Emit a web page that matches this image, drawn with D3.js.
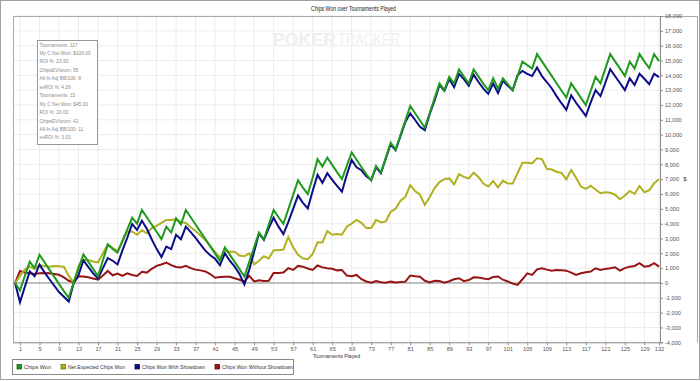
<!DOCTYPE html>
<meta charset="utf-8">
<script src="https://d3js.org/d3.v7.min.js"></script>
<style>
body { margin: 0; background: #fff; }
text { font-family: "Liberation Sans", Arial, sans-serif; }
</style>
<div id="chart"></div>
<script>

// tick labels
var xTicks = [1, 5, 9, 13, 17, 21, 25, 29, 33, 37, 41, 45, 49, 53, 57, 61, 65, 69, 73, 77, 81, 85, 89, 93, 97, 101, 105, 109, 113, 117, 121, 125, 129, 132];
var yTicks = [-4000, -3000, -2000, -1000, 0, 1000, 2000, 3000, 4000, 5000, 6000, 7000, 8000, 9000, 10000, 11000, 12000, 13000, 14000, 15000, 16000, 17000, 18000];

// series, one value per tournament (index 0 = start)
var chipsWon = [0, -500, 470, 1440, 1000, 1900, 1410, 920, 430, -60,
  -550, -1000, 50, 990, 1930, 1440, 950, 460, 1530, 2600,
  2300, 2050, 2830, 3610, 4400, 4000, 4920, 4430, 3940, 3450,
  2960, 3800, 3400, 4360, 3950, 4920, 4430, 3940, 3450, 2960,
  2470, 1980, 1490, 2400, 1910, 1420, 930, 440, 1420, 2410,
  3400, 2950, 3940, 4920, 4430, 3980, 4960, 5940, 6920, 6430,
  6000, 7100, 8350, 7850, 8450, 7960, 7470, 7000, 7900, 8800,
  8310, 7820, 7330, 6900, 7890, 7450, 8450, 9460, 9000, 9980,
  10950, 11930, 11440, 10950, 10460, 11460, 12460, 13460, 13000, 13900,
  13450, 14400, 13910, 13460, 14400, 13910, 13420, 13010, 13800, 13100,
  13800, 13400, 13000, 13950, 14920, 14690, 14450, 15430, 14940, 14450,
  13960, 13470, 12980, 12500, 13460, 12970, 12480, 12000, 12950, 13900,
  13460, 14450, 15430, 14940, 14450, 13960, 14920, 14450, 15430, 14940,
  14480, 15430, 14960];

var netExpected = [0, 480, 900, 1100, 950, 1200, 1150, 1100, 1150, 1120,
  1100, 480, 20, 1150, 1550, 1550, 1450, 1380, 2000, 2600,
  2350, 2150, 2800, 3500, 3460, 3250, 3550, 3350, 3700, 3850,
  4050, 4250, 4250, 4300, 4100, 4050, 3750, 3500, 3200, 2900,
  2500, 2100, 1700, 2150, 2100, 2100, 1850, 1800, 2000, 1250,
  1500, 1800, 1650, 2200, 2200, 2250, 3100, 2400, 1900, 1650,
  1600, 1950, 2750, 2730, 3500, 3250, 3300, 3250, 3800, 4000,
  4250, 4050, 3700, 3700, 4250, 4080, 4150, 4800, 5000, 5550,
  5800, 6600, 6200, 5950, 5260, 5800, 6400, 6800, 7000, 7050,
  6650, 7330, 7150, 7050, 7430, 7150, 6700, 6500, 6870, 6450,
  6900, 6700, 6700, 7400, 8100, 8100, 8080, 8400, 8350, 7700,
  7650, 7500, 7420, 6990, 7620, 7100, 6500, 6350, 6550, 6300,
  6050, 6120, 6080, 5950, 5650, 5900, 6200, 6000, 6540, 6120,
  6250, 6720, 6990];

var withShowdown = [0, -1300, -250, 780, 450, 1230, 730, 270, -170, -610,
  -930, -1250, -10, 540, 1520, 1080, 650, 300, 1000, 1680,
  1500, 1250, 2200, 3050, 3980, 3570, 4200, 3650, 2950, 2300,
  1750, 2450, 2280, 3250, 2950, 3800, 3430, 3040, 2600, 2180,
  1870, 1630, 1200, 2000, 1500, 1100, 600, -100, 900, 2100,
  3350, 2900, 3700, 4400, 3800, 3300, 4100, 5000, 5900, 5400,
  5030, 6200, 7300, 6750, 7400, 6950, 6550, 6150, 7300, 8300,
  7800, 7600, 7200, 6950, 7800, 7400, 8400, 9350, 8950, 9900,
  10850, 11440, 10990, 10530, 10310, 11400, 12300, 13350, 12950, 13750,
  13200, 14100, 13750, 13300, 14050, 13550, 13100, 12750, 13450, 12800,
  13650, 13300, 13000, 14000, 14300, 14100, 13950, 14520, 13950, 13550,
  13130, 12600, 12120, 11670, 12650, 12150, 11700, 11260, 12180, 13000,
  12600, 13500, 14420, 13940, 13480, 13000, 13800, 13350, 14100, 13770,
  13400, 14100, 13880];

var withoutShowdown = [0, 810, 700, 650, 610, 650, 680, 650, 600, 550,
  380, 150, 60, 450, 430, 380, 300, 220, 500, 810,
  520, 640, 480, 650, 540, 470, 760, 700, 950, 1150,
  1250, 1370, 1200, 1080, 1050, 1150, 1000, 900, 850, 780,
  600, 350, 400, 420, 420, 320, 220, 100, 480, 100,
  180, 140, 150, 680, 680, 700, 1000, 880, 1150, 1100,
  980, 880, 1180, 1050, 1000, 960, 850, 880, 500, 450,
  540, 250, 100, 20, 130, 50, 20, 90, 40, 60,
  90, 500, 450, 420, 150, 30, 150, 130, 20, 120,
  250, 320, 120, 200, 380, 370, 300, 250, 400, 440,
  220, 100, -40, -130, 250, 650, 540, 920, 990, 900,
  830, 880, 860, 830, 700, 540, 650, 720, 770, 990,
  880, 950, 990, 1060, 830, 1000, 1100, 1150, 1330, 1100,
  1150, 1330, 1100];

var seriesNames = ["Chips Won", "Net Expected Chips Won", "Chips Won With Showdown", "Chips Won Without Showdown"];
var seriesColors = ["#1f9a1f", "#b0b020", "#0c0c88", "#961414"];

var statsLines = ["Tournaments: 117", "My C Net Won: $106.00", "ROI %: 23.93", "ChipsEV/tourn: 55",
  "All-In Adj BB/100: 8", "evROI %: 4.26", "Tournaments: 15", "My C Net Won: $45.00",
  "ROI %: 20.00", "ChipsEV/tourn: 42", "All-In Adj BB/100: 11", "evROI %: 3.03"];

var W = 700, H = 381;
var plot = {left: 13, top: 16, right: 660, bottom: 342.3};

var svg = d3.select("#chart").append("svg")
  .attr("width", W)
  .attr("height", H);

// outer border
svg.append("rect")
  .attr("x", 0.5).attr("y", 0.5)
  .attr("width", W - 1).attr("height", H - 2)
  .attr("fill", "#fff")
  .attr("stroke", "#a0a0a0");

// title
svg.append("text")
  .attr("x", 311).attr("y", 11)
  .style("font-size", "6.3px")
  .attr("fill", "#222")
  .attr("textLength", 85)
  .attr("lengthAdjust", "spacingAndGlyphs")
  .text("Chips Won over Tournaments Played");

var x = d3.scaleLinear().domain([0, 132]).range([15.1, 659]);
var y = d3.scaleLinear().domain([-4000, 18000]).range([plot.bottom, plot.top]);

// grid
svg.append("g").selectAll("line")
  .data(xTicks).enter().append("line")
  .attr("x1", d => x(d)).attr("x2", d => x(d))
  .attr("y1", plot.top).attr("y2", plot.bottom)
  .attr("stroke", "#ececec");
svg.append("g").selectAll("line")
  .data(yTicks).enter().append("line")
  .attr("x1", plot.left).attr("x2", plot.right)
  .attr("y1", d => y(d)).attr("y2", d => y(d))
  .attr("stroke", "#ececec");

// frame (top + left)
svg.append("path")
  .attr("d", "M" + (plot.left + 0.5) + "," + plot.bottom + "V" + (plot.top + 0.5) + "H697.5V" + plot.bottom)
  .attr("fill", "none")
  .attr("stroke", "#a8a8a8");

// watermark
svg.append("text")
  .attr("x", 273).attr("y", 46)
  .style("font-size", "18px")
  .style("font-weight", "bold")
  .attr("fill", "#efefef")
  .attr("textLength", 63)
  .attr("lengthAdjust", "spacingAndGlyphs")
  .text("POKER");
svg.append("text")
  .attr("x", 338).attr("y", 46)
  .style("font-size", "18px")
  .attr("fill", "#efefef")
  .attr("textLength", 62)
  .attr("lengthAdjust", "spacingAndGlyphs")
  .text("TRACKER");

// zero line
svg.append("line")
  .attr("x1", plot.left).attr("x2", plot.right)
  .attr("y1", y(0)).attr("y2", y(0))
  .attr("stroke", "#8a8a8a");

// axes
var fmt = d3.format(",");
var yAxis = svg.append("g")
  .attr("transform", "translate(" + plot.right + ",0)")
  .call(d3.axisRight(y).tickValues(yTicks).tickSize(3).tickPadding(2)
    .tickFormat(d => fmt(d).replace("\u2212", "-")));
var xAxis = svg.append("g")
  .attr("transform", "translate(0," + plot.bottom + ")")
  .call(d3.axisBottom(x).tickValues(xTicks).tickSize(3).tickPadding(2));
xAxis.select(".domain").attr("d", "M" + plot.left + ",0.5H" + plot.right);
[xAxis, yAxis].forEach(function(a) {
  a.selectAll("path, line").attr("stroke", "#8a8a8a");
  a.selectAll("text").attr("fill", "#555").style("font-size", "5.6px");
});

svg.append("text")
  .attr("x", 313).attr("y", 358)
  .style("font-size", "6px")
  .attr("fill", "#333")
  .attr("textLength", 47)
  .attr("lengthAdjust", "spacingAndGlyphs")
  .text("Tournaments Played");

svg.append("text")
  .attr("x", 685).attr("y", 181)
  .attr("text-anchor", "middle")
  .style("font-size", "6px")
  .attr("fill", "#333")
  .text("$");

// lines
var line = d3.line()
  .x((d, i) => x(i))
  .y(d => y(d));

var drawOrder = [[withoutShowdown, 3], [netExpected, 1], [withShowdown, 2], [chipsWon, 0]];
drawOrder.forEach(function(s) {
  svg.append("path")
    .datum(s[0])
    .attr("d", line)
    .attr("fill", "none")
    .attr("stroke", seriesColors[s[1]])
    .attr("stroke-width", 2)
    .attr("stroke-linejoin", "miter");
});

// stats box
var sb = svg.append("g");
sb.append("rect")
  .attr("x", 37.5).attr("y", 40.5)
  .attr("width", 60).attr("height", 104)
  .attr("fill", "#fff")
  .attr("stroke", "#999");
sb.selectAll("text")
  .data(statsLines).enter().append("text")
  .attr("x", 39.5)
  .attr("y", (d, i) => 46.5 + i * 8.45)
  .style("font-size", "4.8px")
  .attr("fill", "#8a8a8a")
  .text(d => d);

// legend
var lg = svg.append("g");
lg.append("rect")
  .attr("x", 12.5).attr("y", 359.5)
  .attr("width", 281).attr("height", 15)
  .attr("fill", "#fff")
  .attr("stroke", "#8a8a8a");
var legX = [17, 61, 135, 215];
var legW = [27, 57, 63, 71];
seriesNames.forEach(function(n, i) {
  lg.append("rect")
    .attr("x", legX[i]).attr("y", 364.5)
    .attr("width", 4.5).attr("height", 4.5)
    .attr("fill", seriesColors[i])
    .attr("stroke", d3.color(seriesColors[i]).darker(1.2))
    .attr("stroke-width", 0.8);
  lg.append("text")
    .attr("x", legX[i] + 4.5 + 2.5).attr("y", 369.2)
    .style("font-size", "5.8px")
    .attr("fill", "#333")
    .attr("textLength", legW[i])
    .attr("lengthAdjust", "spacingAndGlyphs")
    .text(n);
});

</script>
